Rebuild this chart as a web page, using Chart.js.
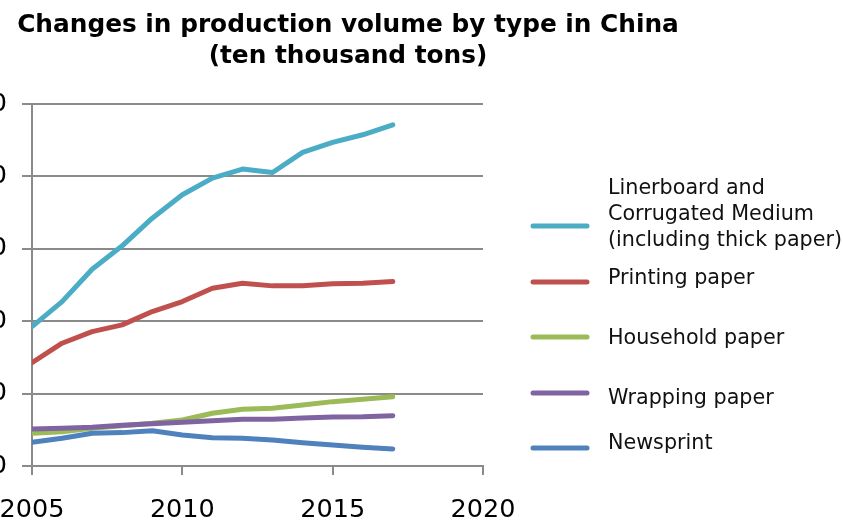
<!DOCTYPE html>
<html>
<head>
<meta charset="utf-8">
<script src="https://cdn.jsdelivr.net/npm/chart.js@4.4.1/dist/chart.umd.min.js"></script>
<style>
  html, body { margin: 0; padding: 0; background: #fff; overflow: hidden; }
  #wrap { position: absolute; left: -147px; top: 0; width: 990px; height: 523px; }
</style>
</head>
<body>
<div id="wrap"><canvas id="paper-chart" width="990" height="523"></canvas></div>
<script>
// production by paper type, ten thousand tons
const years = [2005, 2006, 2007, 2008, 2009, 2010, 2011, 2012, 2013, 2014, 2015, 2016, 2017];
const linerboard = [1925, 2270, 2718, 3041, 3423, 3746, 3976, 4101, 4054, 4331, 4469, 4575, 4713];
const printing   = [1428, 1696, 1856, 1949, 2133, 2271, 2456, 2525, 2488, 2488, 2516, 2525, 2548];
const household  = [452, 474, 521, 557, 590, 636, 728, 784, 797, 843, 889, 922, 958];
const wrapping   = [511, 521, 535, 562, 585, 604, 626, 645, 645, 663, 677, 681, 695];
const newsprint  = [327, 383, 452, 461, 488, 428, 391, 383, 359, 322, 290, 258, 235];

const seriesNames = [
  ['Linerboard and', 'Corrugated Medium', '(including thick paper)'],
  ['Printing paper'],
  ['Household paper'],
  ['Wrapping paper'],
  ['Newsprint']
];
const seriesColors = ['#4bacc6', '#c0504d', '#9bbb59', '#8064a2', '#4f81bd'];
const seriesValues = [linerboard, printing, household, wrapping, newsprint];

const titleLines = ['Changes in production volume by type in China', '(ten thousand tons)'];
const yTicks = [0, 1000, 2000, 3000, 4000, 5000];
const xTicks = [2005, 2010, 2015, 2020];

const gridColor = '#8a8a8a';
const font = 'DejaVu Sans';

// two-line title centred on the canvas
const topTitle = {
  id: 'topTitle',
  afterDraw(chart, args, opts) {
    const ctx = chart.ctx;
    ctx.save();
    ctx.font = 'bold ' + opts.fontSize + 'px "' + font + '"';
    ctx.fillStyle = '#000';
    ctx.textAlign = 'center';
    ctx.textBaseline = 'alphabetic';
    titleLines.forEach((t, i) => ctx.fillText(t, chart.width / 2, opts.baseY[i]));
    ctx.restore();
  }
};

// legend drawn to the right of the plot, one row per series
const sideLegend = {
  id: 'sideLegend',
  afterDraw(chart, args, opts) {
    const ctx = chart.ctx;
    ctx.save();
    ctx.font = opts.fontSize + 'px "' + font + '"';
    ctx.fillStyle = '#111';
    ctx.textBaseline = 'alphabetic';
    ctx.textAlign = 'left';
    chart.data.datasets.forEach((ds, i) => {
      const y = opts.lineY[i];
      ctx.beginPath();
      ctx.strokeStyle = ds.borderColor;
      ctx.lineWidth = 5;
      ctx.lineCap = 'round';
      ctx.moveTo(opts.x0, y);
      ctx.lineTo(opts.x1, y);
      ctx.stroke();
      seriesNames[i].forEach((t, k) => {
        ctx.fillText(t, opts.textX, opts.textY[i] + k * 26);
      });
    });
    ctx.restore();
  }
};

const datasets = seriesValues.map((vals, i) => ({
  label: seriesNames[i].join(' '),
  data: vals.map((v, k) => ({ x: years[k], y: v })),
  borderColor: seriesColors[i],
  backgroundColor: seriesColors[i],
  borderWidth: 5,
  borderCapStyle: 'round',
  borderJoinStyle: 'round',
  pointRadius: 0,
  tension: 0,
  order: -i
}));

new Chart(document.getElementById('paper-chart'), {
  type: 'line',
  data: { datasets },
  plugins: [topTitle, sideLegend],
  options: {
    responsive: false,
    animation: false,
    layout: { padding: { left: 0, right: 360, top: 104, bottom: 0 } },
    plugins: {
      legend: { display: false },
      tooltip: { enabled: false },
      title: { display: false },
      topTitle: { fontSize: 24.8, baseY: [32, 63] },
      sideLegend: {
        x0: 680, x1: 734, textX: 755, fontSize: 20.7,
        lineY: [226, 282, 337, 393, 448],
        textY: [194, 284, 344, 404, 449]
      }
    },
    scales: {
      x: {
        type: 'linear',
        min: 2005,
        max: 2020,
        afterBuildTicks: (axis) => { axis.ticks = xTicks.map(v => ({ value: v })); },
        afterFit: (axis) => { axis.height = 57; },
        ticks: {
          color: '#000',
          font: { family: font, size: 25.5 },
          padding: 20,
          maxRotation: 0,
          callback: (v) => String(v)
        },
        grid: { drawOnChartArea: false, drawTicks: true, tickLength: 9, color: gridColor, lineWidth: 2 },
        border: { color: gridColor, width: 2 }
      },
      y: {
        min: 0,
        max: 5000,
        afterBuildTicks: (axis) => { axis.ticks = yTicks.map(v => ({ value: v })); },
        afterFit: (axis) => { axis.width = 179; },
        ticks: {
          color: '#000',
          font: { family: font, size: 25.5 },
          padding: 15,
          callback: (v) => String(v)
        },
        grid: { color: gridColor, lineWidth: 2, tickLength: 10 },
        border: { color: gridColor, width: 2 }
      }
    }
  }
});
</script>
</body>
</html>
